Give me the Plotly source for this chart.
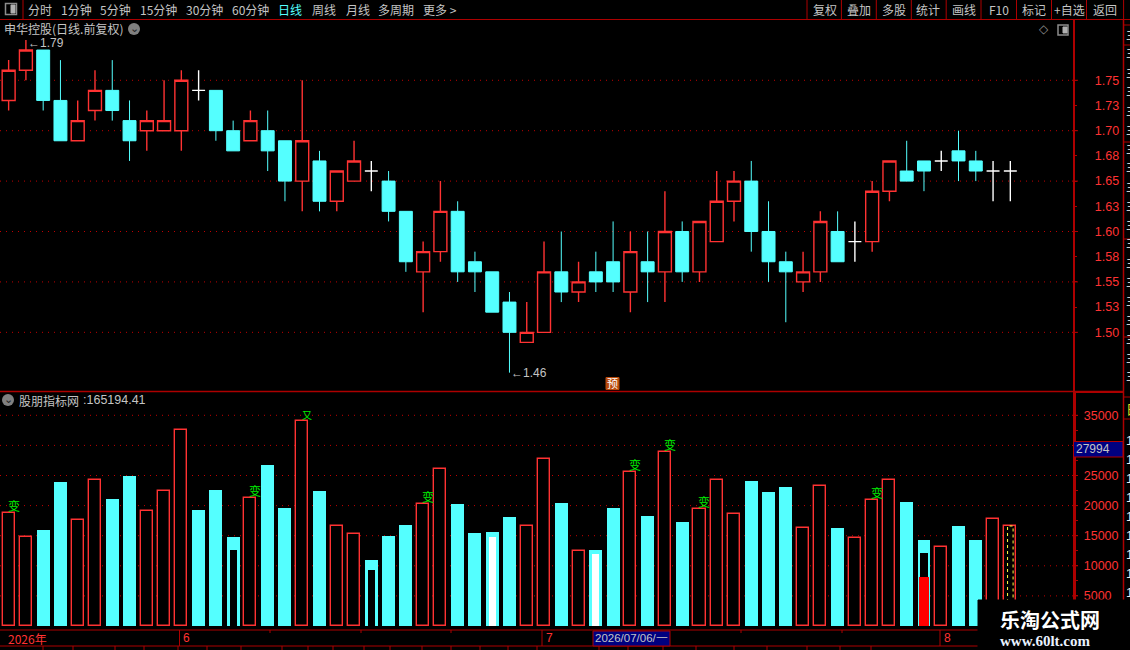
import plotly.graph_objects as go

W, H = 1130, 650
CJK = "Noto Sans CJK SC"
NUM = "Liberation Sans"
RED = "#ff3232"
DARK = "#ad0000"
CYAN = "#54ffff"
GREY = "#c4c4c4"

# daily candles (prices move in cents)
opens = [1.73, 1.76, 1.78, 1.73, 1.69, 1.72, 1.74, 1.71, 1.70, 1.70, 1.70, 1.74, 1.74, 1.70, 1.69, 1.70, 1.69, 1.65, 1.67, 1.63,
         1.65, 1.66, 1.65, 1.62, 1.56, 1.58, 1.62, 1.57, 1.56, 1.53, 1.49, 1.50, 1.56, 1.54, 1.56, 1.57, 1.54, 1.57, 1.56, 1.60,
         1.56, 1.59, 1.63, 1.65, 1.60, 1.57, 1.55, 1.56, 1.60, 1.59, 1.59, 1.64, 1.66, 1.67, 1.67, 1.68, 1.67, 1.66, 1.66]
highs = [1.77, 1.79, 1.78, 1.77, 1.73, 1.76, 1.77, 1.73, 1.72, 1.75, 1.76, 1.76, 1.74, 1.71, 1.72, 1.72, 1.69, 1.75, 1.68, 1.66,
         1.69, 1.67, 1.66, 1.62, 1.59, 1.65, 1.63, 1.58, 1.56, 1.54, 1.53, 1.59, 1.60, 1.57, 1.58, 1.61, 1.60, 1.60, 1.64, 1.61,
         1.61, 1.66, 1.66, 1.67, 1.63, 1.58, 1.58, 1.62, 1.62, 1.61, 1.65, 1.67, 1.69, 1.67, 1.68, 1.70, 1.68, 1.67, 1.67]
lows = [1.72, 1.75, 1.72, 1.69, 1.69, 1.71, 1.71, 1.67, 1.68, 1.70, 1.68, 1.73, 1.69, 1.68, 1.69, 1.66, 1.63, 1.62, 1.62, 1.62,
        1.65, 1.64, 1.61, 1.56, 1.52, 1.57, 1.55, 1.54, 1.52, 1.46, 1.49, 1.50, 1.53, 1.53, 1.54, 1.54, 1.52, 1.53, 1.53, 1.55,
        1.55, 1.59, 1.61, 1.58, 1.55, 1.51, 1.54, 1.55, 1.57, 1.57, 1.58, 1.63, 1.65, 1.64, 1.66, 1.65, 1.65, 1.63, 1.63]
closes = [1.76, 1.78, 1.73, 1.69, 1.71, 1.74, 1.72, 1.69, 1.71, 1.71, 1.75, 1.74, 1.70, 1.68, 1.71, 1.68, 1.65, 1.69, 1.63, 1.66,
          1.67, 1.66, 1.62, 1.57, 1.58, 1.62, 1.56, 1.56, 1.52, 1.50, 1.50, 1.56, 1.54, 1.55, 1.55, 1.55, 1.58, 1.56, 1.60, 1.56,
          1.61, 1.63, 1.65, 1.60, 1.57, 1.56, 1.56, 1.61, 1.57, 1.59, 1.64, 1.67, 1.65, 1.66, 1.67, 1.67, 1.66, 1.66, 1.66]

# volume bars
volumes = [18715, 14728, 15947, 23920, 17552, 24197, 21096, 24917, 19047, 22369, 32502, 19269, 22591, 14784, 21207, 26744, 19601,
           33997, 22425, 16556, 15227, 10963, 14950, 16777, 20210, 26024, 20265, 15448, 15614, 18106, 16556, 27685, 20432, 12403,
           12624, 19601, 25526, 18272, 28848, 17275, 19380, 24197, 18549, 24086, 22259, 23089, 16223, 23200, 16279, 14562, 20874,
           24197, 20598, 14285, 13067, 16611, 14285, 17718, 16611]
vol_colors = "rrccrrccrrrcccrccrcrrcccrrccccrrcrccrcrcrrrcccrrcrrrccrccrr"

# inner bars drawn on top of some volume bars
black_x, black_y = [13, 21, 53], [12624, 9302, 12126]
white_x, white_y = [28, 34], [14784, 11960]
solid_red_x, solid_red_y = [53], [8139]

# green markers above bars
signal_x = [0, 14, 24, 36, 38, 40, 50]
signal_text = "变"

price_ticks = [1.75, 1.725, 1.70, 1.675, 1.65, 1.625, 1.60, 1.575, 1.55, 1.525, 1.50]
price_labels = ["1.75", "1.73", "1.70", "1.68", "1.65", "1.63", "1.60", "1.58", "1.55", "1.53", "1.50"]
price_grid = [1.75, 1.70, 1.65, 1.60, 1.55, 1.50]
vol_ticks = [35000, 32500, 30000, 27500, 25000, 22500, 20000, 17500, 15000, 12500, 10000, 7500, 5000]
vol_labels = ["35000", "", "", "", "25000", "", "20000", "", "15000", "", "10000", "", "5000"]
vol_grid = [35000, 30000, 25000, 20000, 15000, 10000, 5000]

left_menu = ["分时", "1分钟", "5分钟", "15分钟", "30分钟", "60分钟", "日线", "周线", "月线", "多周期", "更多 >"]
left_menu_x = [39.6, 76, 115, 158, 204, 250, 290, 323.6, 357.5, 396, 440]
right_menu = ["复权", "叠加", "多股", "统计", "画线", "F10", "标记", "+自选", "返回"]
right_menu_x = [824.5, 858.7, 893.6, 928, 963.6, 999, 1033.5, 1069.5, 1105]
menu_seps = [23, 807, 841.4, 876.3, 911.3, 946.2, 981, 1016.5, 1051.5, 1086.5, 1123.6]
bottom_seps = [43, 73, 115, 144, 178, 207, 241, 282, 308, 333, 364, 390, 422, 451, 480, 508, 537, 599, 628, 663, 696, 734, 767,
               807, 840, 871]

idx = list(range(len(opens)))


def px(x):
    return x / W


def py(y):
    return 1 - y / H


candle_x = [i for i in idx if opens[i] != closes[i]]
doji_x = [i for i in idx if opens[i] == closes[i]]
red_x = [i for i in idx if vol_colors[i] == "r"]
cyan_x = [i for i in idx if vol_colors[i] == "c"]

fig = go.Figure()

fig.add_trace(go.Candlestick(
    x=candle_x,
    open=[opens[i] for i in candle_x], high=[highs[i] for i in candle_x],
    low=[lows[i] for i in candle_x], close=[closes[i] for i in candle_x],
    increasing=dict(line=dict(color=RED, width=1.4), fillcolor="#000000"),
    decreasing=dict(line=dict(color=CYAN, width=1), fillcolor=CYAN),
    xaxis="x", yaxis="y", showlegend=False,
))
fig.add_trace(go.Candlestick(
    x=doji_x,
    open=[opens[i] for i in doji_x], high=[highs[i] for i in doji_x],
    low=[lows[i] for i in doji_x], close=[closes[i] for i in doji_x],
    increasing=dict(line=dict(color="#ffffff", width=1.4), fillcolor="#ffffff"),
    decreasing=dict(line=dict(color="#ffffff", width=1.4), fillcolor="#ffffff"),
    xaxis="x", yaxis="y", showlegend=False,
))

fig.add_trace(go.Bar(x=cyan_x, y=[volumes[i] for i in cyan_x], width=0.75, marker=dict(color=CYAN, line=dict(width=0)),
                     xaxis="x2", yaxis="y2", showlegend=False))
fig.add_trace(go.Bar(x=red_x, y=[volumes[i] for i in red_x], width=0.7,
                     marker=dict(color="#000000", line=dict(color=RED, width=1.4)),
                     xaxis="x2", yaxis="y2", showlegend=False))
fig.add_trace(go.Bar(x=black_x, y=black_y, width=0.41, marker=dict(color="#000000", line=dict(width=0)),
                     xaxis="x2", yaxis="y2", showlegend=False))
fig.add_trace(go.Bar(x=white_x, y=white_y, width=0.41, marker=dict(color="#ffffff", line=dict(width=0)),
                     xaxis="x2", yaxis="y2", showlegend=False))
fig.add_trace(go.Bar(x=solid_red_x, y=solid_red_y, width=0.63, marker=dict(color="#ff0000", line=dict(width=0)),
                     xaxis="x2", yaxis="y2", showlegend=False))

# today's bar has a dotted yellow estimate inside it
last = idx[-1]
fig.add_trace(go.Scatter(
    x=[last - 0.16, last - 0.16, last + 0.16, last + 0.16],
    y=[0, volumes[last], volumes[last], 0],
    mode="lines", line=dict(color="#ffff40", width=1, dash="dot"),
    xaxis="x2", yaxis="y2", showlegend=False,
))

shapes = []


def line(x0, y0, x1, y1, color=DARK, width=1, dash=None, layer="above"):
    shapes.append(dict(type="line", xref="paper", yref="paper", x0=px(x0), y0=py(y0), x1=px(x1), y1=py(y1),
                       line=dict(color=color, width=width, dash=dash), layer=layer))


def box(x0, y0, x1, y1, fill, border=None, width=1, radius=False):
    shapes.append(dict(type="rect", xref="paper", yref="paper", x0=px(x0), y0=py(y0), x1=px(x1), y1=py(y1),
                       fillcolor=fill, line=dict(color=border or fill, width=width), layer="above"))


# dotted grid with a short solid tick on the axis
for v in price_grid:
    shapes.append(dict(type="line", xref="paper", yref="y", x0=0, x1=px(1072), y0=v, y1=v,
                       line=dict(color="#c00000", width=1, dash="1px 5px"), layer="below"))
    shapes.append(dict(type="line", xref="paper", yref="y", x0=px(1072), x1=px(1078), y0=v, y1=v,
                       line=dict(color=DARK, width=1), layer="above"))
for v in vol_grid:
    shapes.append(dict(type="line", xref="paper", yref="y2", x0=0, x1=px(1072), y0=v, y1=v,
                       line=dict(color="#c00000", width=1, dash="1px 5px"), layer="below"))
    shapes.append(dict(type="line", xref="paper", yref="y2", x0=px(1072), x1=px(1078), y0=v, y1=v,
                       line=dict(color=DARK, width=1), layer="above"))

# frame
line(0, 19.5, 1130, 19.5)
line(0, 391.5, 1123, 391.5, width=1.5)
line(1073, 392, 1123, 392, width=2)
line(0, 630, 978, 630)
line(0, 646, 978, 646)
line(1123.5, 20, 1123.5, 600, width=1.5)
for x in menu_seps:
    line(x, 0, x, 19.5)
for x in bottom_seps:
    line(x, 646, x, 650)
for y in [25, 45, 142, 239, 337, 397, 419]:
    line(1123.5, y, 1130, y)
for x in [179.5, 542, 940]:
    line(x, 630, x, 646)
for x in [270, 361, 451, 741, 842]:
    line(x, 630, x, 633)

annotations = []


def text(x, y, s, color=GREY, size=12, font=CJK, anchor="left", **kw):
    annotations.append(dict(xref="paper", yref="paper", x=px(x), y=py(y), text=s, showarrow=False,
                            xanchor=anchor, yanchor="middle", font=dict(family=font, size=size, color=color),
                            borderpad=0, **kw))


for s, x in zip(left_menu, left_menu_x):
    text(x, 9.5, s, color=CYAN if s == "日线" else GREY, anchor="center")
for s, x in zip(right_menu, right_menu_x):
    text(x, 9.5, s, anchor="center")

# small window icons
box(5.5, 3.5, 16.5, 14.5, "#000000", border="#8c8c8c", width=1.5)
box(11, 5, 15, 13, "#b0b0b0")
box(1058, 25, 1068, 35, "#000000", border="#8c8c8c", width=1.5)
box(1063, 27, 1067, 33, "#b0b0b0")
text(1044, 29.5, "◇", color="#8c8c8c", size=12, font="DejaVu Sans", anchor="center")

text(3, 29, "申华控股(日线.前复权)")
shapes.append(dict(type="circle", xref="paper", yref="paper", x0=px(128), x1=px(140), y0=py(23), y1=py(35),
                   fillcolor="#808080", line=dict(width=0), layer="above"))
text(134, 28.5, "⌄", color="#202020", size=11, font="DejaVu Sans", anchor="center")
shapes.append(dict(type="circle", xref="paper", yref="paper", x0=px(2), x1=px(14), y0=py(394), y1=py(406),
                   fillcolor="#808080", line=dict(width=0), layer="above"))
text(8, 399.5, "⌄", color="#202020", size=11, font="DejaVu Sans", anchor="center")
text(18, 400, "股朋指标网")
text(82, 400, ":165194.41", font=NUM, size=12.5)

# high and low notes on the candles
annotations.append(dict(xref="x", yref="y", x=1, y=max(highs), text="←1.79", showarrow=False, xanchor="left",
                        yanchor="middle", xshift=0, yshift=-3, font=dict(family=NUM, size=12, color=GREY)))
annotations.append(dict(xref="x", yref="y", x=29, y=min(lows), text="←1.46", showarrow=False, xanchor="left",
                        yanchor="middle", xshift=0, yshift=0, font=dict(family=NUM, size=12, color=GREY)))

box(606, 377.5, 619, 389.5, "#b84a0a")
text(612.5, 383, "预", color="#ffffff", size=11, anchor="center")

for i in signal_x:
    annotations.append(dict(xref="x2", yref="y2", x=i, y=volumes[i], text=signal_text, showarrow=False, xanchor="center",
                            yanchor="bottom", xshift=5, yshift=-3, font=dict(family=CJK, size=12, color="#00f000")))
annotations.append(dict(xref="x2", yref="y2", x=17, y=volumes[17], text="又", showarrow=False, xanchor="center",
                        yanchor="bottom", xshift=5, yshift=-3, font=dict(family=CJK, size=10, color="#00f000")))

# date strip
text(7, 638, "2026年", color=RED)
text(182, 638, "6", color=RED, font=NUM)
text(545, 638, "7", color=RED, font=NUM)
text(943, 638, "8", color=RED, font=NUM)
box(593, 631, 670, 646, "#000080", border="#b00000")
text(631.5, 638, "2026/07/06/一", color=GREY, size=11.5, font=NUM, anchor="center")

# current value on the volume axis
box(1073.5, 441.5, 1123, 457, "#000080", border="#b00000")
text(1075, 449, "27994", color=GREY, font=NUM, size=12)

# edge of the next panel, cut off by the window
for y in range(33, 390, 19):
    text(1125, y, "主", color="#d0d0d0", size=13, anchor="left")
for y in range(440, 600, 19):
    text(1125, y, "1", color="#f0f0f0", size=13, font=NUM, anchor="left")
text(1125, 408, "日", color="#e0e020", size=13, anchor="left")

# watermark covers the corner
box(978, 600, 1130, 650, "#000000")
text(1050, 619, "<b>乐淘公式网</b>", color="#ffffff", size=20, anchor="center")
text(1045, 641, "<b>www.60lt.com</b>", color="#eaf2ff", size=15, font="Liberation Serif", anchor="center")

x_range = [-0.5, 61.6]
x_axis = dict(range=x_range, domain=[0, px(1072.5)], visible=False, fixedrange=True)

fig.update_layout(
    width=W, height=H,
    margin=dict(l=0, r=0, t=0, b=0),
    paper_bgcolor="#000000", plot_bgcolor="#000000",
    barmode="overlay", boxgap=0.25, boxgroupgap=0, bargap=0, showlegend=False,
    xaxis=dict(x_axis, anchor="y", rangeslider=dict(visible=False)),
    xaxis2=dict(x_axis, anchor="y2"),
    yaxis=dict(
        domain=[py(391), py(20)], range=[1.4418, 1.8098], side="right", anchor="x",
        tickmode="array", tickvals=price_ticks, ticktext=price_labels,
        tickfont=dict(family=NUM, size=12.5, color=RED), ticks="outside", ticklen=3, tickcolor=DARK,
        ticklabelstandoff=15, showgrid=False, zeroline=False,
        showline=True, linecolor=DARK, linewidth=1.5,
    ),
    yaxis2=dict(
        domain=[py(630), py(392)], range=[-664, 38870], side="right", anchor="x2",
        tickmode="array", tickvals=vol_ticks, ticktext=vol_labels,
        tickfont=dict(family=NUM, size=12.5, color=RED), ticks="outside", ticklen=3, tickcolor=DARK,
        ticklabelstandoff=3, showgrid=False, zeroline=False,
        showline=True, linecolor=DARK, linewidth=2.5,
    ),
    shapes=shapes,
    annotations=annotations,
)

fig.write_html("out.html", config=dict(displayModeBar=False), post_script="document.body.style.margin='0';")
